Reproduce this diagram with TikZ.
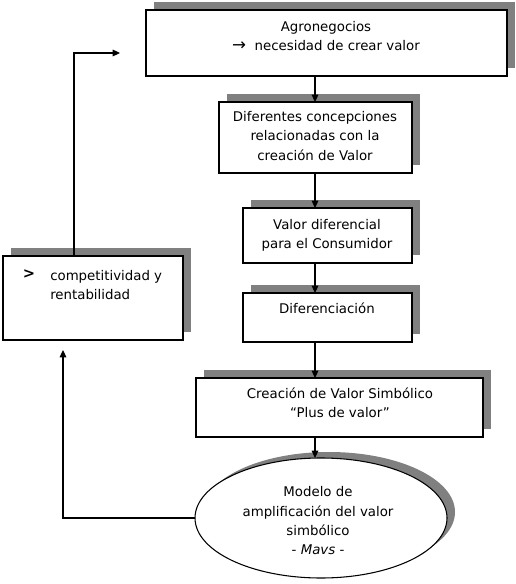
\documentclass[tikz,border=0pt]{standalone}
\usepackage{fontspec}
\setmainfont{DejaVu Sans}
\usetikzlibrary{shapes.geometric,arrows.meta,calc}
\definecolor{shadowgray}{RGB}{128,128,128}
\newcommand\shbox[5]{% name x1 y1 x2 y2
  \fill[shadowgray] ({#2+8},{#3-8}) rectangle ({#4+8},{#5-8});
  \node[box,minimum width={(#4-#2)*0.75pt},minimum height={(#5-#3)*0.75pt}] (#1) at ({(#2+#4)/2},{(#3+#5)/2}) {};
}
\begin{document}
\begin{tikzpicture}[x=0.75pt,y=-0.75pt,
  box/.style={draw=black,fill=white,line width=0.8pt,inner sep=0pt,outer sep=0pt},
  txt/.style={align=center,font=\fontsize{10}{14.5}\selectfont,inner sep=0pt},
  arr/.style={-{Triangle[length=5.5pt,width=5pt]},line width=0.8pt}]
\useasboundingbox (0,0) rectangle (516,584);
% boxes
\shbox{b1}{146}{10}{507}{76}
\shbox{b2}{219}{102}{412}{173}
\shbox{b3}{243}{208}{412}{263}
\shbox{b4}{243}{293}{412}{342}
\shbox{b5}{196}{378}{483}{437}
\shbox{lb}{3}{256}{183}{340}
% ellipse
\fill[shadowgray] (329,512) ellipse [x radius=94.5pt, y radius=45pt];
\node[box,ellipse,minimum width=189pt,minimum height=90pt] (el) at (321,518) {};
% texts
\node[txt] (t1) at (326,36) {Agronegocios\\ {\fontsize{12.5}{14.5}\selectfont →}\ \ necesidad de crear valor};
\node[txt] (t2) at (315,136) {Diferentes concepciones\\ relacionadas con la\\ creación de Valor};
\node[txt] (t3) at (327,235) {Valor diferencial\\ para el Consumidor};
\node[txt] (t4) at (327,308) {Diferenciación};
\node[txt] (t5) at (340,403) {Creación de Valor Simbólico\\ “Plus de valor”};
\node[txt] (t6) at (318,521) {Modelo de\\ amplificación del valor\\ simbólico\\ - \textit{Mavs} -};
\node[txt,font=\fontsize{11}{14.5}\selectfont\bfseries] (gt) at (29,274) {>};
\node[txt,align=left,anchor=west] (t7) at (50,285) {competitividad y\\ rentabilidad};
% connectors
\coordinate (ax) at (315,0);
\draw[arr] (b1.south -| ax) -- (b2.north -| ax);
\draw[arr] (b2.south -| ax) -- (b3.north -| ax);
\draw[arr] (b3.south -| ax) -- (b4.north -| ax);
\draw[arr] (b4.south -| ax) -- (b5.north -| ax);
\draw[arr] (b5.south -| ax) -- (ax |- el.north);
\coordinate (fx) at (74,0);
\coordinate (ftip) at (120,53);
\draw[arr] (lb.north -| fx) |- (ftip);
\coordinate (btip) at (63,350);
\draw[arr] (el.west) -| (btip);
\end{tikzpicture}
\end{document}
